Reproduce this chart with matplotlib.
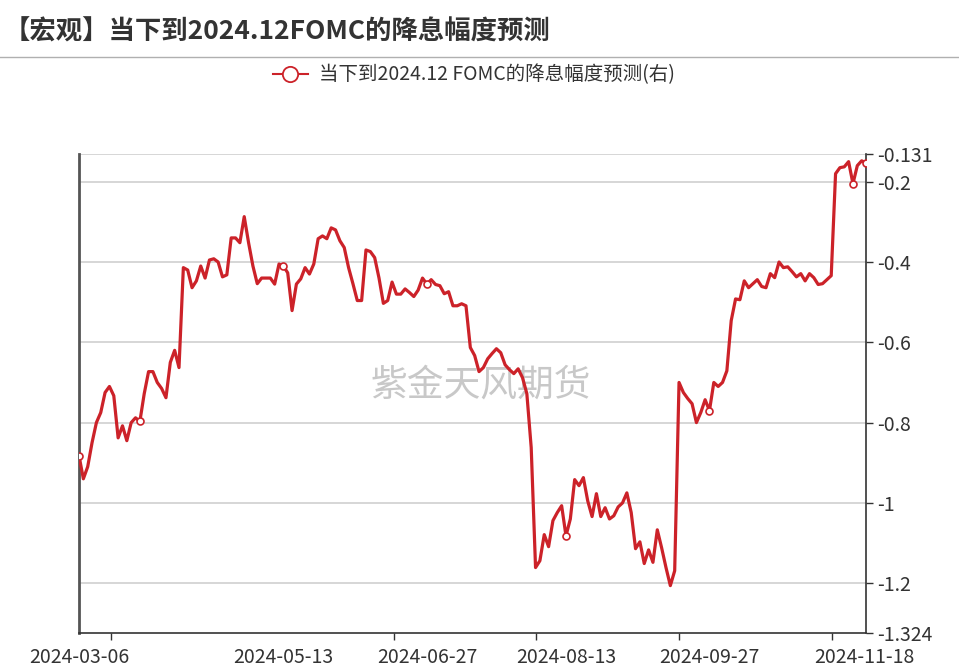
import numpy as np
import matplotlib
matplotlib.use("Agg")
import matplotlib.pyplot as plt
from matplotlib.lines import Line2D

plt.rcParams['font.family'] = ['Noto Sans CJK SC', 'DejaVu Sans']
plt.rcParams['axes.unicode_minus'] = False

# 当下到2024.12 FOMC的降息幅度预测 (one value per trading day)
cut_pred = [
    -0.882, -0.94, -0.91, -0.85, -0.80, -0.775, -0.725, -0.71, -0.733, -0.838,
    -0.808, -0.845, -0.80, -0.788, -0.797, -0.728, -0.673, -0.673, -0.70, -0.715,
    -0.738, -0.65, -0.62, -0.663, -0.414, -0.42, -0.464, -0.447, -0.41, -0.44,
    -0.395, -0.392, -0.40, -0.437, -0.432,
    -0.34, -0.34, -0.352, -0.287, -0.352, -0.41, -0.454, -0.44, -0.44, -0.44,
    -0.455, -0.405, -0.41, -0.427, -0.521, -0.455, -0.442, -0.414, -0.43, -0.405,
    -0.342, -0.335, -0.342, -0.315, -0.32, -0.347, -0.364, -0.414, -0.454, -0.496,
    -0.496, -0.37, -0.374, -0.389, -0.44, -0.503, -0.496,
    -0.45, -0.48, -0.48, -0.467, -0.476, -0.486, -0.47, -0.44, -0.455, -0.444,
    -0.456, -0.459, -0.479, -0.474, -0.509, -0.509, -0.504, -0.509, -0.613, -0.633,
    -0.673, -0.663, -0.641, -0.628, -0.616, -0.626, -0.656, -0.668, -0.678, -0.666,
    -0.688, -0.728, -0.862, -1.161, -1.144,
    -1.079, -1.109, -1.044, -1.024, -1.007, -1.082, -1.04, -0.942, -0.957, -0.937,
    -0.995, -1.034, -0.977, -1.034, -1.012, -1.04, -1.032, -1.01, -1.0, -0.975,
    -1.024, -1.114, -1.097, -1.151, -1.117, -1.148, -1.067, -1.112, -1.161, -1.206,
    -1.169, -0.70, -0.725, -0.74, -0.753, -0.80, -0.775, -0.743, -0.77, -0.70,
    -0.71, -0.70, -0.671, -0.546, -0.492, -0.494, -0.447, -0.464, -0.454, -0.444,
    -0.461, -0.464, -0.429, -0.439, -0.40, -0.414, -0.412, -0.424, -0.437, -0.429,
    -0.447, -0.429, -0.439, -0.456, -0.454, -0.444, -0.434, -0.18, -0.165, -0.163,
    -0.15, -0.205, -0.16, -0.148, -0.153,
]
marker_idx = [0, 14, 47, 80, 112, 145, 178, 181]

date_labels = ["2024-03-06", "2024-05-13", "2024-06-27", "2024-08-13", "2024-09-27", "2024-11-18"]
label_pos = [0, 47, 80, 112, 145, 180.6]
tick_pos = [7.4, 72.5, 105, 138, 173.2]

ytick_vals = [-0.131, -0.2, -0.4, -0.6, -0.8, -1.0, -1.2, -1.324]
ytick_text = ["-0.131", "-0.2", "-0.4", "-0.6", "-0.8", "-1", "-1.2", "-1.324"]

series_name = "当下到2024.12 FOMC的降息幅度预测(右)"
title = "【宏观】当下到2024.12FOMC的降息幅度预测"
red = "#cc2229"

x = np.arange(len(cut_pred))

fig = plt.figure(figsize=(9.59, 6.71), dpi=100)
ax = fig.add_axes([79 / 959, 1 - 633 / 671, 787 / 959, 479 / 671])

ax.plot(x, cut_pred, color=red, lw=2.3, zorder=3,
        marker="o", markevery=marker_idx, markersize=5,
        markerfacecolor="white", markeredgecolor=red, markeredgewidth=1.2)

ax.set_xlim(0, len(cut_pred) - 1)
ax.set_ylim(ytick_vals[-1], ytick_vals[0])

# y axis on the right
ax.yaxis.tick_right()
ax.set_yticks(ytick_vals)
ax.set_yticklabels(ytick_text)
ax.tick_params(axis="y", which="major", direction="out", length=5, width=1,
               color="#333333", labelsize=14, labelcolor="#333333", pad=3)
for v in ytick_vals[:-1]:
    ax.axhline(v, color="#d0d0d0", lw=1.2, zorder=1)

# x axis: labels and tick marks sit at different spots
ax.set_xticks(label_pos)
ax.set_xticklabels(date_labels)
ax.set_xticks(tick_pos, minor=True)
ax.tick_params(axis="x", which="major", length=0, labelsize=14,
               labelcolor="#333333", pad=10)
ax.tick_params(axis="x", which="minor", direction="out", length=5, width=1,
               color="#333333")

ax.spines["top"].set_visible(False)
ax.spines["left"].set_color("#555555")
ax.spines["left"].set_linewidth(2)
ax.spines["right"].set_color("#333333")
ax.spines["right"].set_linewidth(1.2)
ax.spines["bottom"].set_color("#333333")
ax.spines["bottom"].set_linewidth(1.2)

ax.text(0.51, 0.518, "紫金天风期货", transform=ax.transAxes, ha="center", va="center",
        fontsize=26.5, color="#c8c8c8", zorder=0)

# title and separator
fig.text(4 / 959, 1 - 32 / 671, title, fontsize=19, fontweight="bold",
         color="#333333", ha="left", va="center")
fig.add_artist(Line2D([0, 1], [1 - 57 / 671] * 2, color="#b0b0b0", lw=1,
                      transform=fig.transFigure))

handle = Line2D([], [], color=red, lw=1.5, marker="o", markersize=11,
                markerfacecolor="white", markeredgecolor=red, markeredgewidth=1.3)
fig.legend([handle], [series_name], loc="center",
           bbox_to_anchor=(474 / 959, 1 - 75 / 671), frameon=False,
           fontsize=14, handlelength=1.8, handletextpad=0.6,
           labelcolor="#333333")

fig.savefig("out.png", dpi=100)
